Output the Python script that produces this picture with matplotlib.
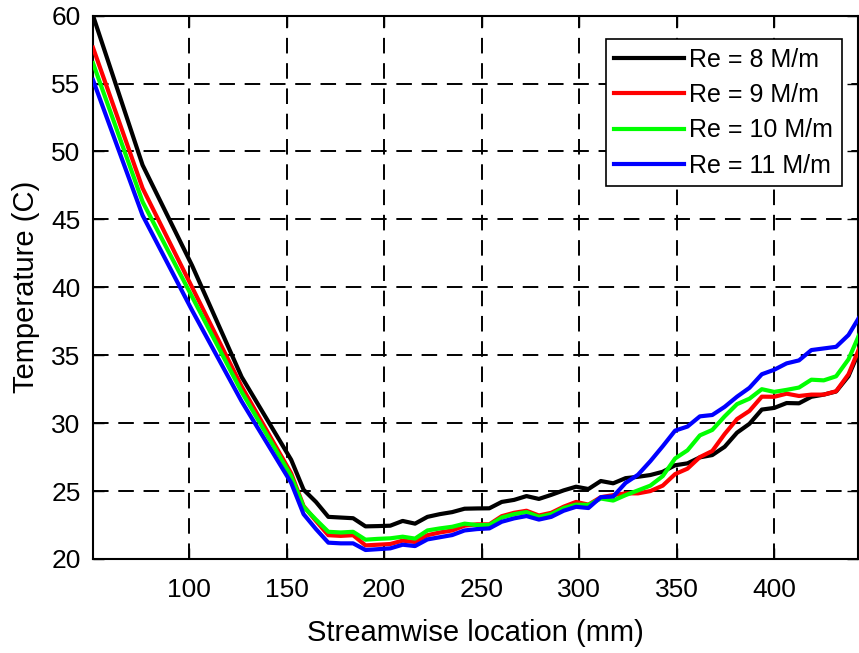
import numpy as np
import matplotlib
matplotlib.use("Agg")
import matplotlib.pyplot as plt

plt.rcParams['font.family'] = ['Liberation Sans', 'DejaVu Sans']

# streamwise stations (mm)
x_mm = [50.8, 76.2, 101.6, 127.0, 152.4, 158.75, 165.1, 171.45, 177.8, 184.15,
        190.5, 196.85, 203.2, 209.55, 215.9, 222.25, 228.6, 234.95, 241.3, 247.65,
        254.0, 260.35, 266.7, 273.05, 279.4, 285.75, 292.1, 298.45, 304.8, 311.15,
        317.5, 323.85, 330.2, 336.55, 342.9, 349.25, 355.6, 361.95, 368.3, 374.65,
        381.0, 387.35, 393.7, 400.05, 406.4, 412.75, 419.1, 425.45, 431.8, 438.15,
        444.5]

T_re8 = [60.0, 49.0, 41.6, 33.4, 27.3, 25.1, 24.2, 23.1, 23.05, 23.0,
         22.4, 22.42, 22.45, 22.8, 22.6, 23.1, 23.3, 23.45, 23.7, 23.72,
         23.73, 24.2, 24.35, 24.63, 24.42, 24.72, 25.05, 25.32, 25.15, 25.74,
         25.57, 25.95, 26.05, 26.18, 26.42, 26.9, 27.04, 27.48, 27.65, 28.26,
         29.3, 29.95, 31.0, 31.12, 31.48, 31.46, 31.94, 32.1, 32.33, 33.46,
         35.6]

T_re9 = [57.64, 47.3, 40.0, 32.7, 26.3, 23.9, 22.8, 21.75, 21.7, 21.75,
         21.0, 21.05, 21.1, 21.35, 21.25, 21.75, 21.95, 22.1, 22.45, 22.55,
         22.55, 23.15, 23.4, 23.55, 23.2, 23.4, 23.85, 24.2, 24.0, 24.55,
         24.7, 24.83, 24.83, 25.0, 25.4, 26.25, 26.65, 27.5, 27.95, 29.2,
         30.3, 30.9, 31.95, 31.94, 32.17, 32.0, 32.1, 32.1, 32.35, 33.6,
         35.8]

T_re10 = [56.5, 46.3, 39.3, 32.3, 26.1, 23.84, 22.9, 22.0, 21.95, 22.0,
          21.42, 21.48, 21.52, 21.64, 21.5, 22.1, 22.25, 22.37, 22.6, 22.5,
          22.5, 23.05, 23.3, 23.45, 23.1, 23.3, 23.75, 24.0, 23.98, 24.45,
          24.3, 24.7, 25.05, 25.4, 26.1, 27.4, 28.0, 29.1, 29.5, 30.5,
          31.4, 31.8, 32.5, 32.3, 32.45, 32.62, 33.2, 33.15, 33.45, 34.7,
          36.8]

T_re11 = [55.26, 45.3, 38.3, 31.6, 25.6, 23.3, 22.2, 21.2, 21.15, 21.15,
          20.66, 20.72, 20.78, 21.05, 20.95, 21.44, 21.6, 21.76, 22.1, 22.2,
          22.25, 22.74, 22.99, 23.16, 22.9, 23.1, 23.55, 23.84, 23.75, 24.55,
          24.6, 25.6, 26.2, 27.2, 28.3, 29.45, 29.75, 30.5, 30.6, 31.2,
          31.95, 32.6, 33.6, 33.93, 34.4, 34.62, 35.38, 35.5, 35.62, 36.49,
          38.0]

labels = ["Re = 8 M/m", "Re = 9 M/m", "Re = 10 M/m", "Re = 11 M/m"]
colors = ["#000000", "#ff0000", "#00ff00", "#0000ff"]

fig = plt.figure(figsize=(8.59, 6.53), dpi=100)
ax = fig.add_axes([0.1083, 0.144, 0.8905, 0.832])

for T, lab, c in zip([T_re8, T_re9, T_re10, T_re11], labels, colors):
    ax.plot(x_mm, T, color=c, lw=3, label=lab, zorder=3)

ax.set_xlim(50.8, 443.0)
ax.set_ylim(20, 60)
ax.set_xticks([100, 150, 200, 250, 300, 350, 400])
ax.set_yticks([20, 25, 30, 35, 40, 45, 50, 55, 60])
ax.grid(True, color='black', lw=1.4, linestyle=(0, (8, 5)), zorder=1)
ax.set_axisbelow(True)
ax.tick_params(direction='in', top=True, right=True, length=8, width=1,
               labelsize=19)
ax.tick_params(axis='x', pad=14)
ax.tick_params(axis='y', pad=9)
for s in ax.spines.values():
    s.set_linewidth(1.5)

ax.set_xlabel("Streamwise location (mm)", fontsize=21, labelpad=12)
ax.set_ylabel("Temperature (C)", fontsize=21, labelpad=8)

leg = ax.legend(loc='upper right', bbox_to_anchor=(0.979, 0.957),
                borderaxespad=0, fontsize=18, handlelength=2.8,
                handletextpad=0.2, labelspacing=0.45, borderpad=0.35,
                fancybox=False, framealpha=1, edgecolor='black')
leg.get_frame().set_linewidth(1.2)

plt.savefig("out.png", dpi=100)
